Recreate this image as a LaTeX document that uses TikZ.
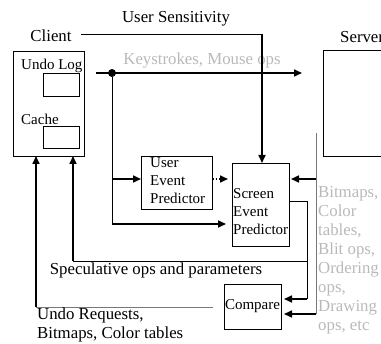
\documentclass[tikz,border=0pt]{standalone}
\usepackage{fontspec}
\setmainfont{Liberation Serif}
\usetikzlibrary{arrows.meta, positioning, calc}
\definecolor{softgray}{RGB}{185,185,185}
\definecolor{wiregray}{RGB}{120,120,120}

\begin{document}
\begin{tikzpicture}[x=1pt, y=-1pt,
  box/.style={draw, line width=0.7pt, inner sep=0pt, outer sep=0pt},
  big/.style={font=\fontsize{16.8}{19}\selectfont, inner sep=0pt},
  small/.style={font=\fontsize{15}{18}\selectfont, inner sep=0pt},
  wire/.style={line width=0.7pt},
  heavy/.style={line width=1.6pt},
  tip/.style={-{Triangle[length=8pt, width=7pt]}}]

  \clip (0,0) rectangle (381,344);

  % ===== Client (left) =====
  \node[big] (clientlbl) at (51,36) {Client};
  \node[box, minimum width=71, minimum height=105] (client) at (48.5,103.5) {};
  \node[small, anchor=west] (undolbl) at (21,66) {Undo Log};
  \node[box, minimum width=36, minimum height=23] (undolog) at (61,84.5) {};
  \node[small, anchor=west] (cachelbl) at (21,119) {Cache};
  \node[box, minimum width=36, minimum height=22] (cache) at (61,137) {};

  % ===== Server (right) =====
  \node[big, anchor=west] (serverlbl) at (340,37) {Server};
  \node[box, minimum width=80, minimum height=106, anchor=north west] (server) at (323,50) {};

  % Top labels
  \node[big] (senslbl) at (176,19) {User Sensitivity};
  \node[big, text=softgray] (keylbl) at (202,60) {Keystrokes, Mouse ops};

  % ===== Predictors =====
  \node[box, minimum width=71, minimum height=53] (uep) at (176.5,182.5) {};
  \node[small, align=left, anchor=west] (ueplbl) at (150,181) {User\\Event\\Predictor};
  \node[box, minimum width=57, minimum height=83] (sep) at (260.5,204.5) {};
  \node[small, align=left, anchor=west] (seplbl) at (233,212) {Screen\\Event\\Predictor};
  \node[box, small, minimum width=57, minimum height=45] (compare) at (252.5,306.5) {Compare};

  % Free ends and bends
  \node[circle, fill, inner sep=0pt, minimum size=8pt] (tap) at (112,73) {};
  \coordinate (sensstart) at (81,34);
  \coordinate (senscorner) at (262,34);
  \coordinate (keystart) at (96,73);
  \coordinate (keyend) at (302,73);
  \coordinate (tapbot) at (112,224);
  \coordinate (srvtop) at (316,133);
  \coordinate (srvtap) at (316,179);
  \coordinate (srvbot) at (316,314);
  \coordinate (spbend) at (307,299);
  \coordinate (spec) at (307,261);
  \coordinate (specturn) at (73,261);
  \coordinate (undobend) at (36,307);

  % Arrows
  \draw[heavy, tip] (keystart) -- (keyend);
  \draw[wire] (sensstart) -- (senscorner);
  \draw[heavy, tip] (senscorner) -- (senscorner |- sep.north);
  \draw[wire] (tap) -- (tapbot);
  \draw[heavy, tip] ([yshift=3.5pt]uep.west -| tap) -- ([yshift=3.5pt]uep.west);
  \draw[heavy, tip, shorten >=6pt] (tapbot) -- (tapbot -| sep.west);
  \draw[heavy, dotted, tip, shorten >=4pt] ([yshift=3.5pt]uep.east) -- ([yshift=3.5pt]uep.east -| sep.west);

  \draw[wire, wiregray] (srvtop) -- (srvbot);
  \draw[heavy, tip, shorten >=2pt] (srvtap) -- (srvtap -| sep.east);
  \draw[heavy, tip, shorten >=3pt] (srvbot) -- (srvbot -| compare.east);
  \draw[wire] ([yshift=3.5pt]sep.east) -| (spbend);
  \draw[heavy, tip, shorten >=3pt] (spbend) -- (spbend -| compare.east);

  \draw[wire] (spec) -- (specturn);
  \draw[heavy, tip] (specturn) -- (specturn |- client.south);
  \draw[wire, wiregray, shorten >=11pt] (undobend) -- (undobend -| compare.west);
  \draw[heavy, tip] (undobend) -- (undobend |- client.south);

  % Bottom labels
  \node[big] (speclbl) at (156,270) {Speculative ops and parameters};
  \node[big, align=left, anchor=west] (undotxt) at (37,325) {Undo Requests,\\Bitmaps, Color tables};
  \node[big, align=left, anchor=west, text=softgray] (srvtxt) at (318,260) {Bitmaps,\\Color\\tables,\\Blit ops,\\Ordering\\ops,\\Drawing\\ops, etc};
\end{tikzpicture}
\end{document}
